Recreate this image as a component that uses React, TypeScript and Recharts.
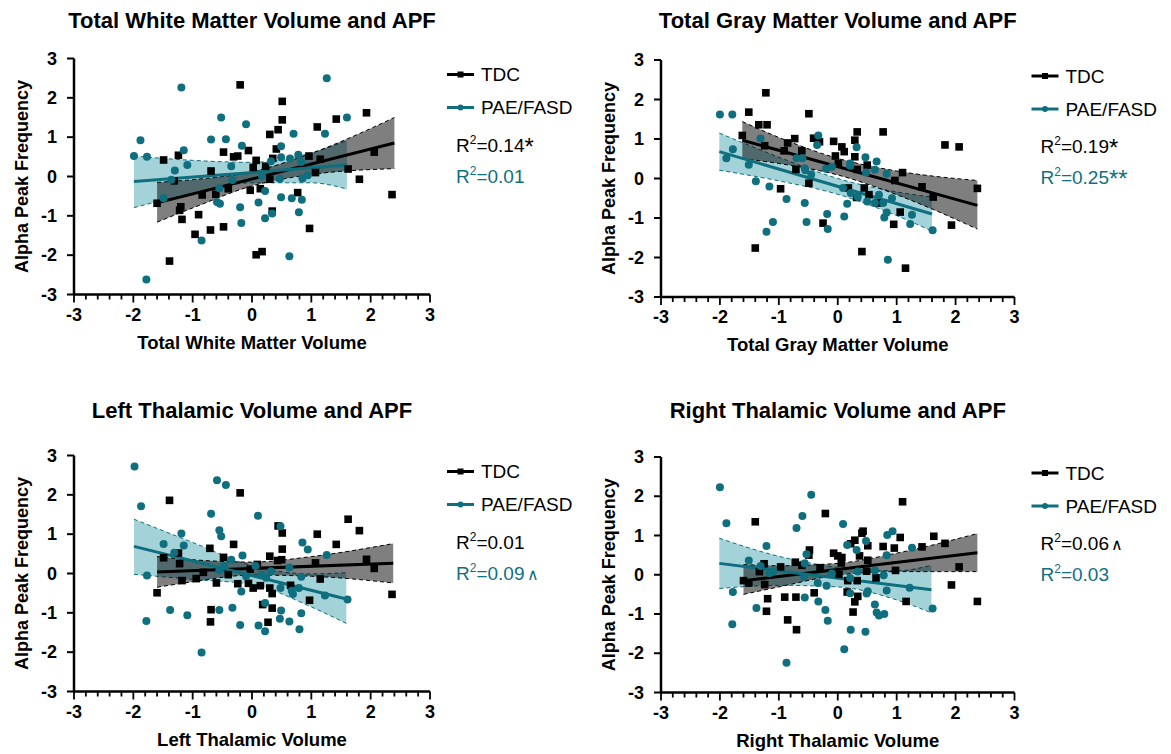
import React from 'react';
import { ComposedChart, XAxis, YAxis, Scatter, Line, Area } from 'recharts';

const TEAL = '#0f6f7e';
const TEAL_FILL = '#a3d3d9';
const FONT = '"Liberation Sans", Arial, Helvetica, sans-serif';

const xTicks = [-3, -2.8, -2.6, -2.4, -2.2, -2, -1.8, -1.6, -1.4, -1.2, -1, -0.8, -0.6, -0.4, -0.2, 0, 0.2, 0.4, 0.6, 0.8, 1, 1.2, 1.4, 1.6, 1.8, 2, 2.2, 2.4, 2.6, 2.8, 3];
const yTicks = [-3, -2, -1, 0, 1, 2, 3];

// ---------- Panel 1: Total White Matter Volume ----------
const wmTdc = [[-0.20,2.33],[0.51,1.91],[0.51,1.44],[0.44,1.19],[0.30,1.07],[1.93,1.62],[1.42,1.46],[1.10,1.26],[0.41,0.70],[0.35,0.46],[0.23,0.26],[0.07,0.41],[-0.06,0.66],[-0.24,0.52],[-0.31,0.50],[-0.48,0.62],[-0.69,0.14],[-1.24,0.54],[-1.49,0.42],[-1.31,-0.11],[-1.60,-0.68],[-1.20,-0.77],[-1.22,-0.86],[-1.18,-1.09],[-0.90,-0.97],[-0.84,-0.47],[-0.61,-0.45],[-0.40,-0.31],[-0.70,-1.36],[-0.48,-1.28],[-0.96,-1.47],[-1.39,-2.15],[0.07,-1.99],[0.17,-1.91],[-0.03,-0.35],[0.14,-0.31],[0.30,-0.07],[0.34,-0.88],[0.77,-0.41],[0.97,-1.32],[0.96,0.52],[1.07,0.10],[1.15,0.44],[1.62,0.19],[1.81,-0.07],[2.06,0.62],[2.36,-0.46],[0.02,0.23]];
const wmPae = [[-1.19,2.26],[1.26,2.50],[-0.52,1.50],[-0.10,1.33],[1.60,1.50],[0.70,1.09],[1.23,1.09],[-0.69,0.94],[-0.44,0.95],[-1.88,0.92],[-1.99,0.52],[-1.77,0.50],[-1.15,0.67],[-0.17,0.78],[0.49,0.77],[0.49,0.49],[0.64,0.46],[0.78,0.55],[0.83,0.37],[0.32,0.39],[-0.35,0.26],[-1.30,0.15],[-1.09,0.29],[-1.36,-0.08],[-0.33,-0.09],[0.17,0.01],[0.47,-0.06],[0.85,-0.05],[0.94,0.03],[-0.55,-0.30],[0.22,-0.37],[-1.49,-0.55],[-0.59,-0.65],[-0.54,-0.69],[0.49,-0.53],[0.67,-0.55],[0.84,-0.59],[-0.20,-0.78],[0.11,-0.66],[0.79,-0.91],[0.34,-0.94],[0.22,-1.06],[-0.18,-1.18],[-0.85,-1.63],[0.63,-2.03],[-1.78,-2.62]];
const wmTdcFit = [[-1.6,-0.67],[2.4,0.85]];
const wmPaeFit = [[-1.99,-0.13],[1.6,0.29]];
const wmTdcBand = [[-1.6,-1.16,-0.15],[-1,-0.80,-0.08],[0,-0.24,0.12],[1,0.05,0.59],[2.4,0.20,1.50]];
const wmPaeBand = [[-1.99,-0.79,0.52],[-1,-0.43,0.41],[0,-0.16,0.36],[1,-0.16,0.60],[1.6,-0.32,0.91]];

// ---------- Panel 2: Total Gray Matter Volume ----------
const gmTdc = [[-1.22,2.17],[-1.51,1.68],[-0.49,1.64],[-1.34,1.36],[-1.20,1.36],[-1.62,1.09],[-1.24,0.83],[-0.91,0.70],[-0.85,0.90],[-0.73,1.01],[-0.61,0.70],[-0.41,1.02],[-0.31,0.93],[-0.07,0.94],[0.07,0.80],[0.11,0.68],[-0.04,0.57],[0.01,0.38],[0.29,0.97],[0.33,1.18],[0.29,0.55],[0.50,0.34],[0.33,0.23],[0.77,1.18],[-0.71,0.23],[-0.49,-0.12],[-0.97,-0.26],[0.18,-0.24],[0.45,-0.24],[0.53,-0.41],[0.32,-0.48],[0.67,-0.62],[1.10,0.15],[0.97,-0.05],[1.43,-0.21],[1.62,-0.47],[1.82,0.85],[2.06,0.80],[2.37,-0.25],[1.06,-0.85],[0.95,-1.16],[-0.25,-1.13],[1.93,-1.18],[-1.40,-1.76],[0.41,-1.85],[1.15,-2.27]];
const gmPae = [[-2.00,1.62],[-1.79,1.62],[-1.78,0.74],[-1.89,0.51],[-1.31,1.01],[-1.51,0.35],[-1.39,-0.07],[-1.16,-0.20],[-1.10,-1.10],[-1.21,-1.35],[-0.87,-0.52],[-0.70,0.51],[-0.60,0.51],[-0.56,0.26],[-0.55,0.21],[-0.45,0.10],[-0.56,-0.62],[-0.53,-1.10],[-0.33,1.09],[-0.35,0.85],[-0.20,0.25],[-0.10,0.30],[-0.18,-0.90],[-0.17,-1.28],[0.11,-0.96],[0.16,-0.64],[0.09,-0.24],[0.21,0.32],[0.21,0.38],[0.32,0.79],[0.22,-0.37],[0.34,-0.47],[0.47,0.54],[0.48,0.15],[0.63,0.22],[0.66,0.43],[0.50,-0.58],[0.63,-0.62],[0.70,-0.41],[0.77,-0.62],[0.83,0.12],[0.92,-0.50],[0.83,-0.86],[0.79,-0.99],[0.85,-2.06],[1.26,-0.92],[1.23,-1.15],[1.61,-1.31]];
const gmTdcFit = [[-1.62,0.97],[2.37,-0.68]];
const gmPaeFit = [[-2.01,0.68],[1.6,-0.90]];
const gmTdcBand = [[-1.62,0.50,1.44],[-1,0.38,1.04],[0,0.09,0.51],[1,-0.41,0.19],[2.37,-1.28,-0.05]];
const gmPaeBand = [[-2.01,0.21,1.15],[-1,-0.06,0.54],[0,-0.40,0.00],[1,-0.94,-0.34],[1.6,-1.33,-0.47]];

// ---------- Panel 3: Left Thalamic Volume ----------
const ltTdc = [[-0.20,2.05],[-1.39,1.86],[1.62,1.38],[1.81,1.09],[0.44,1.21],[0.51,1.03],[1.10,1.00],[1.42,0.74],[-0.31,0.74],[-0.71,0.64],[0.51,0.62],[-0.48,0.41],[0.30,0.44],[0.43,0.33],[0.50,0.35],[-1.49,0.40],[-1.24,0.52],[-1.22,0.25],[1.07,0.27],[1.93,0.36],[2.06,0.13],[-0.40,-0.03],[-0.03,0.11],[0.09,0.23],[-1.18,-0.18],[-0.94,-0.13],[-0.82,0.03],[-0.60,-0.24],[-0.24,-0.26],[-0.06,-0.25],[0.02,-0.37],[0.14,-0.31],[0.30,-0.37],[0.34,-0.51],[0.65,-0.30],[1.15,-0.14],[-1.60,-0.49],[0.97,-0.68],[2.36,-0.53],[0.18,-0.79],[0.34,-0.88],[-0.69,-0.92],[-0.70,-1.23],[0.27,-1.24]];
const ltPae = [[-1.98,2.72],[-0.59,2.37],[-0.44,2.25],[-1.87,1.71],[-0.69,1.52],[0.10,1.47],[0.48,1.20],[-0.55,1.10],[-0.52,0.95],[-1.19,1.02],[-1.15,0.71],[-1.49,0.75],[-1.31,0.53],[0.85,0.79],[0.94,0.61],[-0.16,0.46],[1.26,0.47],[-0.35,0.35],[-0.55,0.08],[-0.47,0.20],[-0.10,-0.07],[0.06,0.19],[0.16,-0.03],[0.32,0.06],[0.63,0.15],[0.83,-0.08],[0.24,-0.11],[0.48,-0.37],[0.67,-0.44],[0.69,-0.52],[0.79,-0.37],[1.23,-0.56],[1.61,-0.66],[-1.77,-0.05],[-0.18,-0.46],[-1.78,-1.21],[-1.38,-0.93],[-1.09,-1.06],[-0.55,-0.93],[-0.33,-0.87],[-0.20,-1.31],[0.11,-1.32],[0.22,-0.75],[0.22,-1.47],[0.49,-0.94],[0.47,-1.15],[0.63,-1.22],[0.83,-1.01],[0.80,-1.42],[-0.85,-2.01]];
const ltTdcFit = [[-1.6,0.04],[2.38,0.26]];
const ltPaeFit = [[-1.99,0.69],[1.59,-0.65]];
const ltTdcBand = [[-1.6,-0.35,0.43],[-1,-0.21,0.35],[0,-0.04,0.29],[1,-0.07,0.43],[2.38,-0.24,0.76]];
const ltPaeBand = [[-1.99,-0.02,1.38],[-1,-0.15,0.79],[0,-0.28,0.20],[1,-0.85,-0.01],[1.59,-1.27,0.02]];

// ---------- Panel 4: Right Thalamic Volume ----------
const rtTdc = [[1.10,1.86],[-0.21,1.56],[-1.40,1.35],[0.43,1.11],[0.41,1.06],[0.29,0.88],[0.22,0.79],[1.06,0.95],[0.51,0.74],[0.77,0.72],[0.96,0.68],[1.43,0.71],[1.63,0.98],[1.82,0.80],[-0.48,0.63],[-0.49,0.50],[-0.07,0.55],[0.00,0.48],[0.07,0.44],[0.06,0.30],[0.37,0.48],[0.51,0.37],[-0.72,0.32],[-0.97,0.20],[-1.25,0.28],[-1.33,0.08],[-0.61,0.24],[-0.30,0.18],[0.02,0.01],[0.49,0.09],[0.98,0.11],[0.65,-0.08],[-1.60,-0.15],[-1.51,-0.21],[-1.24,-0.25],[0.17,-0.15],[0.33,-0.15],[0.16,-0.44],[-0.40,-0.46],[0.34,-0.55],[0.29,-0.69],[-1.19,-0.61],[-0.90,-0.57],[-0.71,-0.57],[-1.21,-0.93],[0.26,-0.95],[-0.85,-1.15],[-0.70,-1.40],[1.16,-0.68],[1.93,-0.26],[2.06,0.20],[2.37,-0.68]];
const rtPae = [[-2.00,2.23],[-1.89,1.31],[-0.45,2.04],[-0.60,1.50],[-0.70,1.19],[0.09,1.29],[-1.21,0.73],[-1.51,0.36],[-1.31,0.22],[-1.16,0.04],[-1.09,0.08],[-0.53,0.52],[-0.56,0.29],[-0.57,-0.05],[-0.34,-0.21],[-0.10,0.03],[-0.19,-0.28],[0.16,0.76],[0.32,0.63],[0.48,0.86],[0.83,0.50],[0.84,1.01],[0.93,1.11],[1.26,0.69],[0.63,0.11],[0.34,0.08],[0.21,-0.08],[0.78,-0.01],[0.51,-0.42],[0.49,-0.48],[0.83,-0.40],[1.22,-0.33],[0.21,-0.47],[-0.56,-0.58],[-0.33,-0.68],[-0.21,-0.90],[-0.17,-1.17],[0.63,-0.76],[0.66,-0.96],[0.70,-1.04],[0.79,-1.00],[1.61,-0.86],[-1.38,-0.85],[-1.78,-0.44],[-1.79,-1.26],[0.22,-1.40],[0.47,-1.45],[0.11,-1.90],[-0.87,-2.24]];
const rtTdcFit = [[-1.6,-0.15],[2.37,0.56]];
const rtPaeFit = [[-2.01,0.29],[1.59,-0.38]];
const rtTdcBand = [[-1.6,-0.50,0.26],[-1,-0.31,0.23],[0,-0.01,0.29],[1,0.08,0.55],[2.37,0.08,1.05]];
const rtPaeBand = [[-2.01,-0.35,0.93],[-1,-0.27,0.47],[0,-0.31,0.19],[1,-0.64,0.10],[1.59,-0.97,0.24]];

const toPts = (arr) => arr.map(([x, y]) => ({ x, y }));

function buildRows(tdcBand, paeBand) {
  const map = new Map();
  tdcBand.forEach(([x, lo, hi]) => {
    const r = map.get(x) || { x };
    r.tdc = [lo, hi];
    map.set(x, r);
  });
  paeBand.forEach(([x, lo, hi]) => {
    const r = map.get(x) || { x };
    r.pae = [lo, hi];
    map.set(x, r);
  });
  return Array.from(map.values()).sort((a, b) => a.x - b.x);
}

const XTick = (props) => {
  const { x, y, payload } = props;
  const v = payload.value;
  const major = Math.abs(v - Math.round(v)) < 1e-6;
  return (
    <g>
      <line x1={x} x2={x} y1={y} y2={y + (major ? 8 : 5)} stroke="#000" strokeWidth={1.8} />
      {major && (
        <text x={x} y={y + 26} textAnchor="middle" fontSize={18} fontWeight={700} fontFamily={FONT} fill="#000">
          {String(Math.round(v))}
        </text>
      )}
    </g>
  );
};

const YTick = (props) => {
  const { x, y, payload } = props;
  return (
    <text x={x} y={y} dx={-7} dy={6} textAnchor="end" fontSize={18} fontWeight={700} fontFamily={FONT} fill="#000">
      {String(payload.value)}
    </text>
  );
};

const Square = (p) => <rect x={p.cx - 3.8} y={p.cy - 3.8} width={7.6} height={7.6} fill="#000" />;
const Dot = (p) => <circle cx={p.cx} cy={p.cy} r={4} fill={TEAL} />;

function Panel({ plot, tdc, pae, tdcFit, paeFit, tdcBand, paeBand }) {
  const rows = buildRows(tdcBand, paeBand);
  return (
    <div style={{ position: 'absolute', left: 0, top: 0 }}>
      <ComposedChart
        width={1171}
        height={754}
        data={rows}
        margin={{ top: plot.t, left: plot.l - 1, right: 1171 - plot.r, bottom: 754 - plot.b - 1 }}
      >
        <XAxis
          type="number"
          dataKey="x"
          domain={[-3, 3]}
          ticks={xTicks}
          interval={0}
          height={1}
          tickSize={0}
          tickMargin={0}
          tickLine={false}
          axisLine={{ stroke: '#000', strokeWidth: 2.5 }}
          tick={<XTick />}
          allowDataOverflow
        />
        <YAxis
          type="number"
          domain={[-3, 3]}
          ticks={yTicks}
          interval={0}
          width={1}
          tickSize={7}
          tickMargin={3}
          axisLine={{ stroke: '#000', strokeWidth: 2.5 }}
          tickLine={{ stroke: '#000', strokeWidth: 2 }}
          tick={<YTick />}
          allowDataOverflow
        />
        <Area
          dataKey="pae"
          type="monotone"
          fill={TEAL_FILL}
          fillOpacity={1}
          stroke={TEAL}
          strokeWidth={1}
          strokeDasharray="4 3"
          connectNulls
          isAnimationActive={false}
        />
        <Area
          dataKey="tdc"
          type="monotone"
          fill="#000"
          fillOpacity={0.5}
          stroke="#000"
          strokeWidth={1}
          strokeDasharray="4 3"
          connectNulls
          isAnimationActive={false}
        />
        <Line data={toPts(tdcFit)} dataKey="y" type="linear" stroke="#000" strokeWidth={3} dot={false} isAnimationActive={false} />
        <Line data={toPts(paeFit)} dataKey="y" type="linear" stroke={TEAL} strokeWidth={3} dot={false} isAnimationActive={false} />
        <Scatter data={toPts(tdc)} dataKey="y" shape={Square} isAnimationActive={false} />
        <Scatter data={toPts(pae)} dataKey="y" shape={Dot} isAnimationActive={false} />
      </ComposedChart>
    </div>
  );
}

const panels = [
  {
    plot: { l: 74, t: 58.5, r: 430, b: 294.5 },
    title: 'Total White Matter Volume and APF',
    xLabel: 'Total White Matter Volume',
    r1: { v: 'R', t: '=0.14', s: '*' },
    r2: { v: 'R', t: '=0.01', s: '' },
    tdc: wmTdc, pae: wmPae, tdcFit: wmTdcFit, paeFit: wmPaeFit, tdcBand: wmTdcBand, paeBand: wmPaeBand,
  },
  {
    plot: { l: 661, t: 60, r: 1014.5, b: 297 },
    title: 'Total Gray Matter Volume and APF',
    xLabel: 'Total Gray Matter Volume',
    r1: { v: 'R', t: '=0.19', s: '*' },
    r2: { v: 'R', t: '=0.25', s: '**' },
    tdc: gmTdc, pae: gmPae, tdcFit: gmTdcFit, paeFit: gmPaeFit, tdcBand: gmTdcBand, paeBand: gmPaeBand,
  },
  {
    plot: { l: 74, t: 455.5, r: 430, b: 691.5 },
    title: 'Left Thalamic Volume and APF',
    xLabel: 'Left Thalamic Volume',
    r1: { v: 'R', t: '=0.01', s: '' },
    r2: { v: 'R', t: '=0.09', s: '\u2227' },
    tdc: ltTdc, pae: ltPae, tdcFit: ltTdcFit, paeFit: ltPaeFit, tdcBand: ltTdcBand, paeBand: ltPaeBand,
  },
  {
    plot: { l: 661, t: 457, r: 1014.5, b: 692.5 },
    title: 'Right Thalamic Volume and APF',
    xLabel: 'Right Thalamic Volume',
    r1: { v: 'R', t: '=0.06', s: '\u2227' },
    r2: { v: 'R', t: '=0.03', s: '' },
    tdc: rtTdc, pae: rtPae, tdcFit: rtTdcFit, paeFit: rtPaeFit, tdcBand: rtTdcBand, paeBand: rtPaeBand,
  },
];

function RText({ x, y, color, r }) {
  const isStar = r.s.indexOf('*') >= 0;
  return (
    <text x={x} y={y} fontSize={19} fill={color} fontFamily={FONT}>
      {r.v}
      <tspan fontSize={12} dy={-8}>2</tspan>
      <tspan dy={8}>{r.t}</tspan>
      {r.s && (isStar ? <tspan fontSize={24} dy={3}>{r.s}</tspan> : <tspan fontSize={16} dx={2}>{r.s}</tspan>)}
    </text>
  );
}

function Overlay() {
  return (
    <svg width={1171} height={754} style={{ position: 'absolute', left: 0, top: 0 }} fontFamily={FONT}>
      {panels.map((p, i) => {
        const { l, t, r, b } = p.plot;
        const cx = (l + r) / 2;
        const cy = (t + b) / 2;
        const titleY = i < 2 ? 28 : 418;
        const lx = r + 17;
        return (
          <g key={i}>
            <text x={cx} y={titleY} textAnchor="middle" fontSize={22} fontWeight={700} fill="#000">{p.title}</text>
            <text x={cx} y={b + 54} textAnchor="middle" fontSize={18.5} fontWeight={700} fill="#000">{p.xLabel}</text>
            <text
              x={l - 52}
              y={cy}
              textAnchor="middle"
              dominantBaseline="central"
              fontSize={18}
              fontWeight={700}
              fill="#000"
              transform={`rotate(-90 ${l - 52} ${cy})`}
            >
              Alpha Peak Frequency
            </text>
            <line x1={lx} x2={lx + 27} y1={t + 16} y2={t + 16} stroke="#000" strokeWidth={3} />
            <rect x={lx + 10.5} y={t + 13} width={6} height={6} fill="#000" />
            <text x={lx + 34} y={t + 16} dominantBaseline="central" fontSize={19} fill="#000">TDC</text>
            <line x1={lx} x2={lx + 27} y1={t + 49} y2={t + 49} stroke={TEAL} strokeWidth={3} />
            <circle cx={lx + 13.5} cy={t + 49} r={3} fill={TEAL} />
            <text x={lx + 34} y={t + 49} dominantBaseline="central" fontSize={19} fill="#000">PAE/FASD</text>
            <RText x={lx + 9} y={t + 93} color="#000" r={p.r1} />
            <RText x={lx + 9} y={t + 124} color={TEAL} r={p.r2} />
          </g>
        );
      })}
    </svg>
  );
}

export default function App() {
  return (
    <div style={{ position: 'absolute', left: 0, top: 0, width: 1171, height: 754, background: '#fff', overflow: 'hidden' }}>
      {panels.map((p, i) => (
        <Panel
          key={i}
          plot={p.plot}
          tdc={p.tdc}
          pae={p.pae}
          tdcFit={p.tdcFit}
          paeFit={p.paeFit}
          tdcBand={p.tdcBand}
          paeBand={p.paeBand}
        />
      ))}
      <Overlay />
    </div>
  );
}
